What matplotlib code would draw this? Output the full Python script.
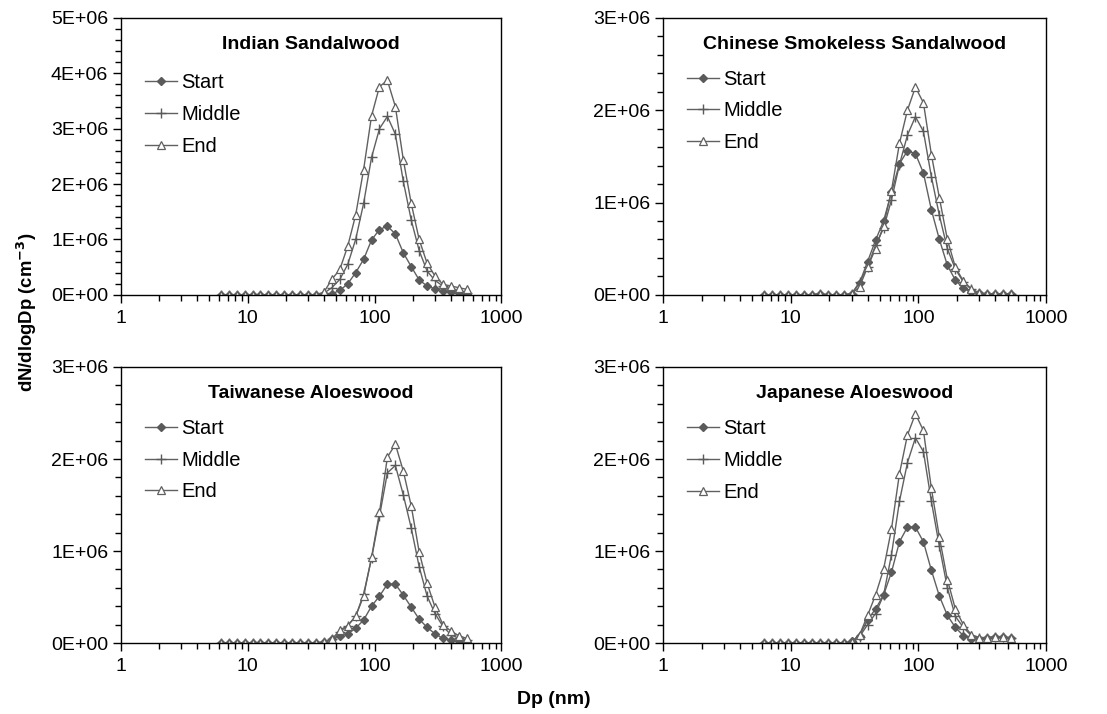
import matplotlib
matplotlib.use("Agg")
import matplotlib.pyplot as plt
from matplotlib.ticker import FuncFormatter, MultipleLocator, LogLocator, NullFormatter

plt.rcParams['font.family'] = ['Liberation Sans', 'DejaVu Sans']

# particle diameter channels (nm), 16 per decade
dp = [6.15, 7.10, 8.20, 9.47, 10.94, 12.63, 14.59, 16.85, 19.45, 22.47,
      25.94, 29.96, 34.6, 39.95, 46.1, 53.3, 61.5, 71.0, 82.0, 94.7,
      109.4, 126.3, 145.9, 168.5, 194.6, 224.7, 259.5, 299.6, 346.0, 399.6,
      461.4, 532.8]

# values in units of 1E+06 cm^-3
indian_start = [0, 0, 0, 0, 0, 0, 0, 0, 0, 0, 0, 0, 0, 0.01, 0.02, 0.08,
                0.2, 0.4, 0.64, 0.99, 1.18, 1.24, 1.10, 0.76, 0.51, 0.27,
                0.16, 0.11, 0.07, 0.05, 0.04, 0.02]
indian_middle = [0, 0, 0, 0, 0, 0, 0, 0, 0, 0, 0, 0, 0, 0.03, 0.13, 0.28,
                 0.55, 1.0, 1.65, 2.48, 3.0, 3.22, 2.9, 2.05, 1.35, 0.8,
                 0.43, 0.26, 0.16, 0.11, 0.07, 0.04]
indian_end = [0, 0, 0, 0, 0, 0, 0, 0, 0, 0, 0, 0, 0, 0.05, 0.28, 0.46,
              0.88, 1.44, 2.26, 3.23, 3.76, 3.87, 3.40, 2.44, 1.65, 1.0,
              0.57, 0.34, 0.19, 0.16, 0.13, 0.10]

chinese_start = [0, 0, 0, 0, 0, 0, 0, 0.01, 0, 0, 0, 0.01, 0.13, 0.36, 0.59, 0.80,
                 1.11, 1.42, 1.56, 1.53, 1.32, 0.92, 0.60, 0.32, 0.16, 0.07,
                 0.03, 0.015, 0.005, 0.005, 0.005, 0.005]
chinese_middle = [0, 0, 0, 0, 0, 0, 0, 0.01, 0, 0, 0, 0.01, 0.14, 0.30, 0.54, 0.72,
                  1.03, 1.41, 1.73, 1.93, 1.77, 1.28, 0.86, 0.50, 0.28, 0.14,
                  0.06, 0.02, 0.01, 0.01, 0.01, 0.01]
chinese_end = [0, 0, 0, 0, 0, 0, 0, 0.01, 0, 0, 0, 0.01, 0.09, 0.30, 0.50, 0.75,
               1.13, 1.64, 2.0, 2.25, 2.08, 1.52, 1.05, 0.60, 0.30, 0.15,
               0.065, 0.02, 0.005, 0.005, 0.005, 0.005]

taiwan_start = [0, 0, 0, 0, 0, 0, 0, 0, 0, 0, 0, 0, 0, 0.01, 0.04, 0.08,
                0.10, 0.16, 0.25, 0.40, 0.51, 0.64, 0.64, 0.52, 0.39, 0.26,
                0.17, 0.10, 0.05, 0.035, 0.02, 0.015]
taiwan_middle = [0, 0, 0, 0, 0, 0, 0, 0, 0, 0, 0, 0, 0, 0.01, 0.04, 0.12,
                 0.19, 0.29, 0.53, 0.92, 1.38, 1.85, 1.93, 1.61, 1.25, 0.83,
                 0.51, 0.32, 0.18, 0.09, 0.05, 0.03]
taiwan_end = [0, 0, 0, 0, 0, 0, 0, 0, 0, 0, 0, 0, 0, 0.01, 0.04, 0.14,
              0.19, 0.29, 0.51, 0.93, 1.42, 2.02, 2.16, 1.87, 1.49, 0.99,
              0.65, 0.39, 0.20, 0.13, 0.08, 0.05]

japan_start = [0, 0, 0, 0, 0, 0, 0, 0, 0, 0, 0, 0.02, 0.08, 0.25, 0.37, 0.52,
               0.77, 1.10, 1.26, 1.26, 1.10, 0.79, 0.51, 0.30, 0.17, 0.08,
               0.04, 0.04, 0.05, 0.07, 0.07, 0.05]
japan_middle = [0, 0, 0, 0, 0, 0, 0, 0, 0, 0, 0, 0.01, 0.07, 0.20, 0.32, 0.52,
                0.96, 1.54, 1.96, 2.23, 2.08, 1.54, 1.05, 0.60, 0.29, 0.17,
                0.08, 0.05, 0.06, 0.065, 0.065, 0.05]
japan_end = [0, 0, 0, 0, 0, 0, 0, 0, 0, 0, 0, 0.01, 0.09, 0.30, 0.52, 0.80,
             1.24, 1.84, 2.26, 2.49, 2.31, 1.68, 1.15, 0.69, 0.37, 0.20,
             0.09, 0.06, 0.06, 0.065, 0.065, 0.05]

titles = ['Indian Sandalwood', 'Chinese Smokeless Sandalwood',
          'Taiwanese Aloeswood', 'Japanese Aloeswood']
ymax = [5, 3, 3, 3]
series = [(indian_start, indian_middle, indian_end),
          (chinese_start, chinese_middle, chinese_end),
          (taiwan_start, taiwan_middle, taiwan_end),
          (japan_start, japan_middle, japan_end)]

# axes positions in figure fractions
boxes = [[0.109, 0.587, 0.344, 0.388],
         [0.599, 0.587, 0.346, 0.388],
         [0.109, 0.0994, 0.344, 0.3866],
         [0.599, 0.0994, 0.346, 0.3866]]
leg_y = [0.80, 0.813, 0.812, 0.81]

fig = plt.figure(figsize=(11.07, 7.14), dpi=100)
lc = '#606060'

for k in range(4):
    ax = fig.add_axes(boxes[k])
    s, m, e = series[k]
    ax.plot(dp, [v * 1e6 for v in s], color=lc, lw=1, marker='D', ms=4.5,
            mfc='#5a5a5a', mec='#5a5a5a', label='Start')
    ax.plot(dp, [v * 1e6 for v in m], color=lc, lw=1, marker='+', ms=7,
            mew=1, mec='#5a5a5a', label='Middle')
    ax.plot(dp, [v * 1e6 for v in e], color=lc, lw=1, marker='^', ms=5.8,
            mfc='white', mec='#606060', mew=0.9, label='End')
    ax.set_xscale('log')
    ax.set_xlim(1, 1000)
    ax.set_ylim(0, ymax[k] * 1e6)
    ax.yaxis.set_major_locator(MultipleLocator(1e6))
    ax.yaxis.set_minor_locator(MultipleLocator(2e5))
    ax.yaxis.set_major_formatter(FuncFormatter(lambda v, p: f'{v:.0E}'))
    ax.xaxis.set_major_locator(LogLocator(base=10, numticks=10))
    ax.xaxis.set_minor_locator(LogLocator(base=10, subs=range(2, 10), numticks=10))
    ax.xaxis.set_minor_formatter(NullFormatter())
    ax.xaxis.set_major_formatter(FuncFormatter(lambda v, p: f'{v:g}'))
    ax.tick_params(axis='both', which='major', direction='out', length=6,
                   width=1, labelsize=14, pad=3)
    ax.tick_params(axis='both', which='minor', direction='out', length=4, width=1)
    ax.tick_params(axis='x', which='major', pad=5)
    for sp in ax.spines.values():
        sp.set_linewidth(1)
    ax.text(0.5, 0.905, titles[k], transform=ax.transAxes, ha='center',
            va='center', fontsize=14, fontweight='bold')
    ax.legend(loc='upper left', bbox_to_anchor=(0.063, leg_y[k]), frameon=False,
              fontsize=14.5, handlelength=1.6, handletextpad=0.2,
              labelspacing=0.63, borderaxespad=0, borderpad=0)

fig.text(0.024, 0.562, 'dN/dlogDp (cm$^{\\mathbf{-3}}$)', rotation=90,
         ha='center', va='center', fontsize=13.3, fontweight='bold')
fig.text(0.5, 0.02, 'Dp (nm)', ha='center', va='center', fontsize=14,
         fontweight='bold')

fig.savefig('out.png', dpi=100)
